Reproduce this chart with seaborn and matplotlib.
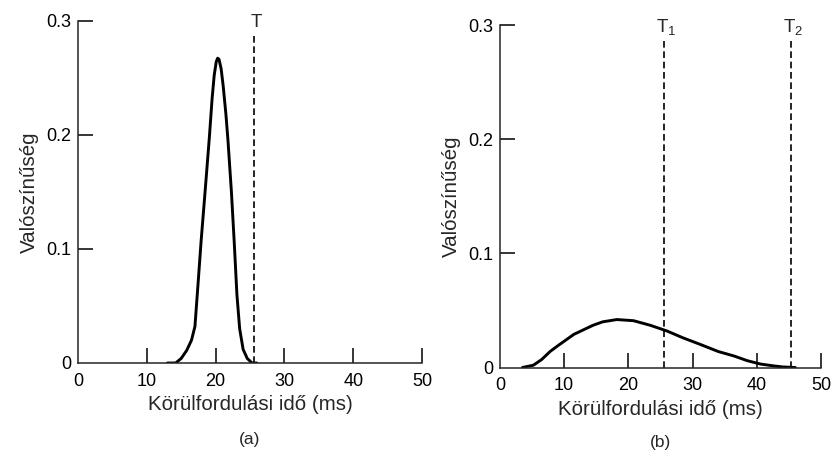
import matplotlib
matplotlib.use("Agg")
import matplotlib.pyplot as plt
import seaborn as sns
import pandas as pd

# ---- data ----
x_a = [13.0, 14.2, 15.0, 15.8, 16.5, 17.0, 17.4, 17.9, 18.5, 19.1, 19.5, 19.8, 20.1, 20.3,
       20.5, 20.8, 21.1, 21.5, 21.8, 22.3, 22.7, 23.1, 23.5, 24.0, 24.6, 25.3, 26.0]
y_a = [0.0, 0.0, 0.004, 0.011, 0.020, 0.032, 0.065, 0.107, 0.152, 0.198, 0.232, 0.252, 0.264, 0.267,
       0.266, 0.258, 0.243, 0.218, 0.195, 0.150, 0.107, 0.060, 0.030, 0.012, 0.004, 0.0, 0.0]

x_b = [3.5, 5.2, 6.5, 7.8, 9.0, 10.0, 11.5, 13.0, 14.5, 16.0, 18.2, 20.8, 23.4, 26.0,
       28.5, 31.3, 34.0, 36.5, 38.5, 40.6, 42.5, 44.0, 46.0]
y_b = [0.0, 0.002, 0.007, 0.014, 0.019, 0.023, 0.029, 0.033, 0.037, 0.040, 0.042, 0.041,
       0.037, 0.032, 0.026, 0.020, 0.014, 0.010, 0.006, 0.003, 0.0015, 0.0005, 0.0]

thresholds_a = [25.6]
threshold_labels_a = ["T"]
thresholds_b = [25.6, 45.3]
threshold_labels_b = ["T$_1$", "T$_2$"]
threshold_top = 0.287

x_ticks = [0, 10, 20, 30, 40, 50]
y_ticks = [0, 0.1, 0.2, 0.3]
y_tick_labels = ["0", "0.1", "0.2", "0.3"]
x_label = "Körülfordulási idő (ms)"
y_label = "Valószínűség"
panel_labels = ["(a)", "(b)"]

# ---- style ----
sns.set_style("ticks")
plt.rcParams["font.family"] = ["Liberation Sans", "DejaVu Sans"]
plt.rcParams["mathtext.default"] = "regular"
plt.rcParams["axes.linewidth"] = 1.1

fig = plt.figure(figsize=(8.33, 4.55), dpi=100)
ax_a = fig.add_axes([0.0936, 0.2022, 0.4130, 0.7527])
ax_b = fig.add_axes([0.6002, 0.1923, 0.3854, 0.7527])

df_a = pd.DataFrame({"x": x_a, "y": y_a})
df_b = pd.DataFrame({"x": x_b, "y": y_b})

sns.lineplot(data=df_a, x="x", y="y", ax=ax_a, color="black", lw=2.1, sort=False)
sns.lineplot(data=df_b, x="x", y="y", ax=ax_b, color="black", lw=2.1, sort=False)

for ax, ths, labs, plab, py in [(ax_a, thresholds_a, threshold_labels_a, panel_labels[0], -0.224),
                                (ax_b, thresholds_b, threshold_labels_b, panel_labels[1], -0.218)]:
    for t, lab in zip(ths, labs):
        ax.vlines(t, 0, threshold_top, colors="black", lw=1.2,
                  linestyles=(0, (4, 2.2)))
        ax.text(t + 0.3, 0.294, lab, ha="center", va="baseline", fontsize=13.5, clip_on=False)
    ax.set_xlim(0, 50)
    ax.set_ylim(0, 0.3)
    ax.set_xticks(x_ticks)
    ax.set_yticks(y_ticks)
    ax.set_yticklabels(y_tick_labels)
    ax.tick_params(axis="both", direction="in", length=10.5, width=1.1,
                   labelsize=13, colors="black")
    ax.tick_params(axis="x", pad=7)
    ax.tick_params(axis="y", pad=5)
    ax.xaxis.get_major_ticks()[0].tick1line.set_visible(False)
    ax.yaxis.get_major_ticks()[0].tick1line.set_visible(False)
    ax.set_xlabel(x_label, fontsize=14.8, labelpad=4)
    ax.set_ylabel(y_label, fontsize=14.8, labelpad=5)
    sns.despine(ax=ax)
    ax.text(0.5, py, plab, transform=ax.transAxes, ha="center", va="center",
            fontsize=12.5)

fig.savefig("out.png", dpi=100)
